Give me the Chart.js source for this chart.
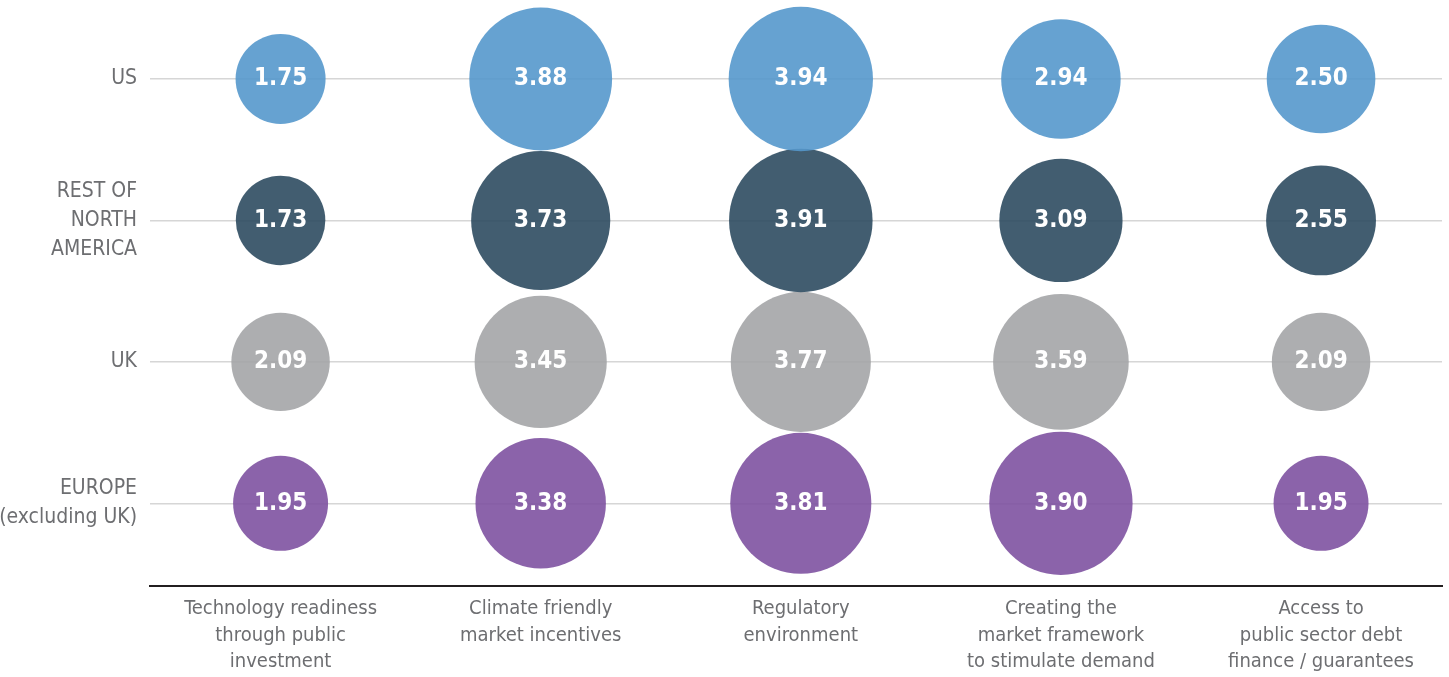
<!DOCTYPE html>
<html>
<head>
<meta charset="utf-8">
<script src="https://cdn.jsdelivr.net/npm/chart.js@4/dist/chart.umd.min.js"></script>
<style>
  html, body { margin: 0; padding: 0; background: #ffffff; }
  #wrap { width: 1449px; height: 677px; }
</style>
</head>
<body>
<div id="wrap"><canvas id="c" width="1449" height="677"></canvas></div>
<script>
// Policy factors (columns)
const factors = [
  ['Technology readiness', 'through public', 'investment'],
  ['Climate friendly', 'market incentives'],
  ['Regulatory', 'environment'],
  ['Creating the', 'market framework', 'to stimulate demand'],
  ['Access to', 'public sector debt', 'finance / guarantees']
];

// Regions (rows, top to bottom)
const regions = [
  ['US'],
  ['REST OF', 'NORTH', 'AMERICA'],
  ['UK'],
  ['EUROPE', '(excluding UK)']
];

// Average scores per region, one value per factor
const usScores     = [1.75, 3.88, 3.94, 2.94, 2.50];
const restNAScores = [1.73, 3.73, 3.91, 3.09, 2.55];
const ukScores     = [2.09, 3.45, 3.77, 3.59, 2.09];
const europeScores = [1.95, 3.38, 3.81, 3.90, 1.95];

const seriesScores = [usScores, restNAScores, ukScores, europeScores];
const seriesColors = [
  'rgba(85,152,204,0.9)',
  'rgba(45,75,97,0.9)',
  'rgba(164,165,167,0.9)',
  'rgba(126,82,161,0.9)'
];

const FONT = "'Liberation Sans Narrow', 'Arial Narrow', 'DejaVu Sans Condensed', sans-serif";

// bubble radius in pixels grows with the score
const radiusFor = v => 12.4 * v + 23.3;

// row index 0 (US) sits at the top of the value axis
const rowValue = i => regions.length - 1 - i;

const datasets = seriesScores.map((scores, i) => ({
  label: regions[i].join(' '),
  data: scores.map((v, j) => ({ x: j + 1, y: rowValue(i), r: radiusFor(v), v: v })),
  backgroundColor: seriesColors[i],
  borderWidth: 0,
  hoverBorderWidth: 0,
  clip: false
}));

const valueLabels = {
  id: 'valueLabels',
  afterDatasetsDraw(chart) {
    const ctx = chart.ctx;
    ctx.save();
    ctx.fillStyle = '#ffffff';
    ctx.font = 'bold 24px ' + FONT;
    ctx.textAlign = 'center';
    ctx.textBaseline = 'middle';
    chart.data.datasets.forEach((ds, di) => {
      chart.getDatasetMeta(di).data.forEach((pt, pi) => {
        ctx.fillText(ds.data[pi].v.toFixed(2), pt.x, pt.y);
      });
    });
    ctx.restore();
  }
};

// keep the plot area fixed: no extra room reserved for overhanging labels
const noOverhang = s => { s.paddingTop = 0; s.paddingBottom = 0; s.paddingLeft = 0; s.paddingRight = 0; };

new Chart(document.getElementById('c'), {
  type: 'bubble',
  data: { datasets },
  plugins: [valueLabels],
  options: {
    responsive: false,
    animation: false,
    events: [],
    layout: { autoPadding: false, padding: { left: 0, right: 7, top: 0, bottom: 0 } },
    plugins: { legend: { display: false }, tooltip: { enabled: false } },
    scales: {
      x: {
        type: 'linear',
        min: 0.498,
        max: 5.465,
        afterBuildTicks: s => { s.ticks = factors.map((f, i) => ({ value: i + 1 })); },
        afterFit: s => { s.height = 91.3; noOverhang(s); },
        grid: { display: false, drawTicks: false },
        border: { display: true, color: '#231f20', width: 2 },
        ticks: {
          autoSkip: false,
          maxRotation: 0,
          padding: 10,
          color: '#6d6e71',
          font: { family: FONT, size: 20, lineHeight: 1.32 },
          callback: v => factors[Math.round(v) - 1]
        }
      },
      y: {
        type: 'linear',
        min: -0.5825,
        max: 3.5587,
        afterBuildTicks: s => { s.ticks = regions.map((r, i) => ({ value: i })); },
        afterFit: s => { s.width = 150; noOverhang(s); },
        grid: { color: '#d6d6d6', lineWidth: 1.5, drawTicks: false },
        border: { display: false },
        ticks: {
          autoSkip: false,
          padding: 13,
          color: '#6d6e71',
          font: { family: FONT, size: 21, lineHeight: 1.38 },
          callback: v => regions[regions.length - 1 - Math.round(v)]
        }
      }
    }
  }
});
</script>
</body>
</html>
